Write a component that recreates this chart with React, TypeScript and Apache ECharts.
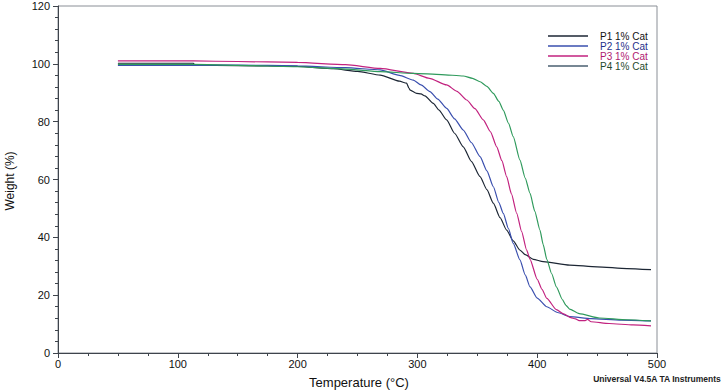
import React, { useEffect, useRef } from "react";
import * as echarts from "echarts";

const seriesNames = ["P1 1% Cat", "P2 1% Cat", "P3 1% Cat", "P4 1% Cat"];
const seriesColors = ["#1c2634", "#3a4fae", "#c2227f", "#2f9a5c"];
const legendIconColors = ["#1c2634", "#3a4fae", "#c2227f", "#4a5f70"];
const legendTextColors = ["#111111", "#1f2f8a", "#b0196f", "#1e4a2c"];

const p1: number[][] = [
  [50, 100.2], [113, 100.2], [114, 99.6], [150, 99.4], [200, 99.1], [230, 98.3], [250, 97.4],
  [269, 96.1], [285, 94], [291, 93.3], [293, 91.5], [294, 90.9], [299.4, 89.8], [303, 89.6],
  [306.3, 88.9], [313.3, 86.3], [318, 84], [324.4, 80.6], [331, 76], [338.3, 71.3], [345, 66.3],
  [352.3, 61], [358, 56.5], [363.4, 51.8], [369, 46.8], [374.5, 42.5], [380, 38.8], [385.6, 35.6],
  [390, 34], [396.8, 32.4], [405, 31.6], [427, 30.4], [450, 29.8], [475, 29.2], [495, 28.8],
];
const p2: number[][] = [
  [50, 99.5], [113, 99.5], [150, 99.6], [200, 99.3], [240, 98.7], [269, 97.9], [285, 96],
  [296.6, 94.4], [303, 92.7], [310.5, 90.4], [317, 87.8], [324.4, 84.6], [331, 81], [338.3, 77.1],
  [345, 72.8], [352.3, 67.9], [358, 63], [363.4, 57.5], [368, 52], [371.7, 48.3], [376, 43],
  [380, 37.9], [385.6, 32.2], [390, 27], [394, 22.9], [400, 19], [408, 16], [417, 14],
  [427, 12.6], [445, 11.9], [470, 11.4], [495, 11.1],
];
const p3: number[][] = [
  [50, 101], [113, 101], [150, 100.8], [200, 100.5], [240, 99.7], [269, 98.4], [296.6, 96.7],
  [310, 95], [324.4, 92.7], [333, 90.5], [341.2, 87.5], [348, 84.5], [355, 80.6], [361, 76.5],
  [366.2, 71.3], [370.5, 66.5], [374.5, 61], [378.5, 55], [382.9, 48.3], [387, 42], [391.2, 35.6],
  [394, 32.4], [400, 25.5], [404, 22], [408, 18.9], [416, 15], [422, 13.5], [428, 12.2],
  [432, 11.8], [435, 11.2], [440, 11.2], [442, 11.6], [445, 10.8], [460, 10.2], [480, 9.7],
  [495, 9.4],
];
const p4: number[][] = [
  [50, 99.8], [113, 99.8], [150, 99.5], [200, 99], [240, 98.2], [269, 97.3], [296.6, 96.7],
  [320, 96.3], [338.3, 95.8], [346, 95], [352.3, 93.8], [358, 92.2], [363.4, 89.8], [368, 87],
  [371.7, 84], [376, 79.5], [380, 74.8], [385.6, 66.7], [390, 60.5], [394, 55.2], [398, 49],
  [402.3, 42.5], [405, 37.5], [408, 32.4], [412, 27.5], [416, 22.9], [421, 18.5], [424, 16.5],
  [427, 15.2], [435, 13.6], [452, 12.1], [475, 11.5], [495, 11.1],
];
const seriesData = [p1, p2, p3, p4];

const xTitle = "Temperature (°C)";
const yTitle = "Weight (%)";
const footer = "Universal V4.5A TA Instruments";

export default function App() {
  const ref = useRef<HTMLDivElement>(null);
  useEffect(() => {
    if (!ref.current) return;
    const chart = echarts.init(ref.current, undefined, { renderer: "svg" });
    const font = "Liberation Sans, Arial, sans-serif";
    const axisColor = "#3e444c";
    chart.setOption({
      animation: false,
      backgroundColor: "#ffffff",
      grid: {
        left: 58,
        right: 67,
        top: 6,
        bottom: 38,
        containLabel: false,
        show: true,
        borderColor: "#8a8f96",
        borderWidth: 1,
      },
      legend: {
        orient: "vertical",
        left: 543,
        top: 26,
        icon: "rect",
        itemWidth: 40,
        itemHeight: 1.5,
        itemGap: 0,
        textStyle: { fontSize: 10, lineHeight: 10, fontFamily: font, padding: [0, 0, 0, 7] },
        data: seriesNames.map((n, i) => ({
          name: n,
          textStyle: { color: legendTextColors[i] },
          itemStyle: { color: legendIconColors[i] },
        })),
      },
      xAxis: {
        type: "value",
        min: 0,
        max: 500,
        interval: 100,
        axisLine: { show: true, lineStyle: { color: axisColor, width: 1 } },
        axisTick: { show: true, length: 5, lineStyle: { color: axisColor, width: 1 } },
        minorTick: { show: true, splitNumber: 4, length: 3, lineStyle: { color: axisColor, width: 1 } },
        splitLine: { show: false },
        axisLabel: { fontSize: 11, color: "#111", fontFamily: font, margin: 5 },
      },
      yAxis: {
        type: "value",
        min: 0,
        max: 120,
        interval: 20,
        axisLine: { show: true, lineStyle: { color: axisColor, width: 1 } },
        axisTick: { show: true, length: 5, lineStyle: { color: axisColor, width: 1 } },
        minorTick: { show: true, splitNumber: 5, length: 3, lineStyle: { color: axisColor, width: 1 } },
        splitLine: { show: false },
        axisLabel: { fontSize: 11, color: "#111", fontFamily: font, margin: 8 },
      },
      series: seriesData.map((d, i) => ({
        name: seriesNames[i],
        type: "line",
        data: d,
        symbol: "none",
        showSymbol: false,
        smooth: 0.2,
        smoothMonotone: "x",
        lineStyle: { color: seriesColors[i], width: 1.2 },
        itemStyle: { color: seriesColors[i] },
      })),
      graphic: [
        {
          type: "text",
          x: 10,
          y: 181,
          rotation: Math.PI / 2,
          style: {
            text: yTitle,
            fontSize: 12,
            fontFamily: font,
            fill: "#111",
            textAlign: "center",
            textVerticalAlign: "middle",
          },
        },
        {
          type: "text",
          x: 359,
          y: 382,
          style: {
            text: xTitle,
            fontSize: 13,
            fontFamily: font,
            fill: "#111",
            textAlign: "center",
            textVerticalAlign: "middle",
          },
        },
        {
          type: "text",
          x: 657,
          y: 379,
          style: {
            text: footer,
            fontSize: 8.5,
            fontWeight: "bold",
            fontFamily: font,
            fill: "#222",
            textAlign: "center",
            textVerticalAlign: "middle",
          },
        },
      ],
    });
    return () => chart.dispose();
  }, []);
  return <div ref={ref} style={{ width: 724, height: 391, position: "absolute", left: 0, top: 0 }} />;
}
